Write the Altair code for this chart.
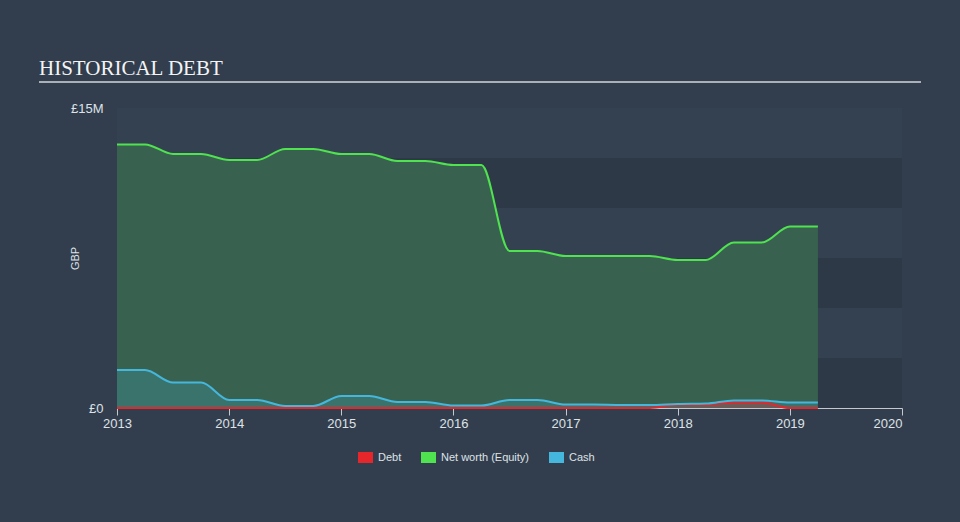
import altair as alt
import pandas as pd

# ---- data (values in £ millions, quarterly) ----
quarters = [2013.0, 2013.25, 2013.5, 2013.75,
            2014.0, 2014.25, 2014.5, 2014.75,
            2015.0, 2015.25, 2015.5, 2015.75,
            2016.0, 2016.25, 2016.5, 2016.75,
            2017.0, 2017.25, 2017.5, 2017.75,
            2018.0, 2018.25, 2018.5, 2018.75,
            2019.0, 2019.25]
net_worth = [13.18, 13.18, 12.7, 12.7,
             12.4, 12.4, 12.95, 12.95,
             12.7, 12.7, 12.35, 12.35,
             12.15, 12.15, 7.85, 7.85,
             7.6, 7.6, 7.6, 7.6,
             7.4, 7.4, 8.28, 8.28,
             9.08, 9.08]
cash = [1.9, 1.9, 1.27, 1.27,
        0.4, 0.4, 0.1, 0.1,
        0.6, 0.6, 0.3, 0.3,
        0.12, 0.12, 0.4, 0.4,
        0.17, 0.17, 0.15, 0.15,
        0.2, 0.22, 0.38, 0.38,
        0.27, 0.27]
debt = [0, 0, 0, 0,
        0, 0, 0, 0,
        0, 0, 0, 0,
        0, 0, 0, 0,
        0, 0, 0, 0,
        0.17, 0.17, 0.28, 0.28,
        0, 0]

series_names = ["Debt", "Net worth (Equity)", "Cash"]
series_colors = ["#e5262b", "#4fe34f", "#45b7dd"]
area_opacity = {"Cash": 0.2, "Debt": 0.3}

band_lo = [0, 5, 10]
band_hi = [2.5, 7.5, 12.5]
x_ticks = [2013, 2014, 2015, 2016, 2017, 2018, 2019, 2020]
y_ticks = [0, 15]
TITLE = "HISTORICAL DEBT"

rows = []
for name, vals in [("Net worth (Equity)", net_worth), ("Cash", cash), ("Debt", debt)]:
    for q, v in zip(quarters, vals):
        rows.append({"year": q, "series": name, "value": v * 1e6})
df = pd.DataFrame(rows)
bands = pd.DataFrame({"lo": [v * 1e6 for v in band_lo], "hi": [v * 1e6 for v in band_hi]})

W, H = 785, 300
FONT = "Liberation Sans"

x_scale = alt.Scale(domain=[2013, 2020], nice=False, zero=False)
y_scale = alt.Scale(domain=[0, 15e6], nice=False)

x_axis = alt.Axis(values=x_ticks, format="d", title=None, grid=False,
                  domainColor="#c5c9ce", tickColor="#c5c9ce", tickSize=7,
                  labelColor="#dfe2e6", labelFontSize=13, labelFont=FONT, labelPadding=2,
                  labelAlign={"condition": {"test": "datum.value == 2020", "value": "right"},
                              "value": "center"})
y_axis = alt.Axis(values=[v * 1e6 for v in y_ticks], grid=False, domain=False, ticks=False,
                  tickSize=0, labelPadding=14, labelColor="#dfe2e6", labelFontSize=13,
                  labelFont=FONT,
                  labelExpr="datum.value == 0 ? '£0' : '£' + format(datum.value / 1e6, 'd') + 'M'",
                  title="GBP", titleColor="#dfe2e6", titleFontSize=11, titleFont=FONT,
                  titleFontWeight="normal", titleX=-42, titleY=150, titleBaseline="middle",
                  titleAlign="center")

fill_scale = alt.Scale(domain=series_names, range=series_colors)
legend = alt.Legend(title=None, orient="none", legendX=241, legendY=342, direction="horizontal",
                    symbolType="M-1,-0.733L1,-0.733L1,0.733L-1,0.733Z", symbolSize=225,
                    symbolOpacity=1, symbolStrokeWidth=0, labelColor="#dfe2e6", labelFontSize=11,
                    labelFont=FONT, labelOffset=5, columnPadding=19, padding=0)

base = alt.Chart(df)

bands_layer = alt.Chart(bands).mark_rect(color="#2d3947").encode(
    y=alt.Y("lo:Q", scale=y_scale, axis=y_axis),
    y2="hi:Q",
    x=alt.value(0), x2=alt.value(W),
)

networth_area = base.transform_filter(alt.datum.series == "Net worth (Equity)").mark_area(
    interpolate="monotone", color="#39634f", opacity=0.97
).encode(
    x=alt.X("year:Q", scale=x_scale, axis=x_axis),
    y=alt.Y("value:Q", scale=y_scale, axis=y_axis, stack=None),
)


def area_layer(name):
    return base.transform_filter(alt.datum.series == name).mark_area(
        interpolate="monotone", opacity=area_opacity[name]
    ).encode(
        x=alt.X("year:Q", scale=x_scale, axis=x_axis),
        y=alt.Y("value:Q", scale=y_scale, axis=y_axis, stack=None),
        fill=alt.Fill("series:N", scale=fill_scale, legend=legend),
    )


def line_layer(name):
    return base.transform_filter(alt.datum.series == name).mark_line(
        interpolate="monotone", strokeWidth=2
    ).encode(
        x=alt.X("year:Q", scale=x_scale, axis=x_axis),
        y=alt.Y("value:Q", scale=y_scale, axis=y_axis),
        stroke=alt.Stroke("series:N", scale=fill_scale, legend=None),
    )


title_df = pd.DataFrame({"t": [TITLE]})
title_layer = alt.Chart(title_df).mark_text(
    font="Liberation Serif", fontSize=21, color="#f4f4f4", align="left", baseline="alphabetic"
).encode(x=alt.value(-78), y=alt.value(-33), text="t:N")
rule_layer = alt.Chart(title_df).mark_rule(color="#aab0b7", strokeWidth=2).encode(
    x=alt.value(-78), x2=alt.value(804), y=alt.value(-26)
)

chart = alt.layer(
    bands_layer,
    networth_area,
    area_layer("Cash"),
    area_layer("Debt"),
    line_layer("Net worth (Equity)"),
    line_layer("Debt"),
    line_layer("Cash"),
    title_layer,
    rule_layer,
).properties(
    width=W, height=H,
    autosize=alt.AutoSizeParams(type="none"),
    padding={"left": 117, "top": 108, "right": 58, "bottom": 114},
    background="#323e4e",
).configure_view(stroke=None, fill="#344151")

chart.save("out.html", embed_options={"renderer": "svg", "actions": False})
